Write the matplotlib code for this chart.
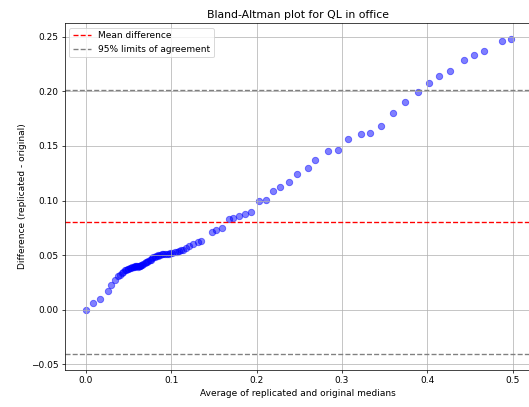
import numpy as np
import matplotlib
matplotlib.use("Agg")
import matplotlib.pyplot as plt

# Data
avg_medians = [
    0.000, 0.009, 0.017, 0.026, 0.030, 0.034, 0.038, 0.040, 0.042, 0.044,
    0.046, 0.047, 0.049, 0.050, 0.052, 0.053, 0.054, 0.056, 0.057, 0.058,
    0.059, 0.060, 0.061, 0.062, 0.063, 0.064, 0.065, 0.066, 0.067, 0.069,
    0.070, 0.072, 0.073, 0.075, 0.076, 0.078, 0.079, 0.081, 0.082, 0.084,
    0.085, 0.087, 0.089, 0.091, 0.093, 0.095, 0.097, 0.099, 0.101, 0.104,
    0.107, 0.109, 0.111, 0.114, 0.117, 0.121, 0.125, 0.131, 0.135,
    0.148, 0.153, 0.159, 0.168, 0.173, 0.180, 0.187, 0.193, 0.203, 0.211,
    0.219, 0.227, 0.238, 0.247, 0.260, 0.269, 0.284, 0.295, 0.307, 0.322,
    0.333, 0.346, 0.360, 0.374, 0.389, 0.402, 0.414, 0.427, 0.443, 0.455,
    0.466, 0.488, 0.498,
]
differences = [
    0.000, 0.006, 0.010, 0.017, 0.023, 0.027, 0.031, 0.032, 0.034, 0.035,
    0.036, 0.036, 0.037, 0.037, 0.038, 0.038, 0.039, 0.039, 0.039, 0.040,
    0.040, 0.040, 0.039, 0.040, 0.040, 0.040, 0.041, 0.041, 0.042, 0.043,
    0.044, 0.044, 0.045, 0.046, 0.046, 0.047, 0.048, 0.048, 0.049, 0.049,
    0.050, 0.050, 0.051, 0.051, 0.051, 0.051, 0.051, 0.052, 0.052, 0.053,
    0.053, 0.054, 0.055, 0.055, 0.057, 0.058, 0.060, 0.062, 0.063,
    0.071, 0.073, 0.075, 0.083, 0.084, 0.086, 0.088, 0.090, 0.100, 0.101,
    0.109, 0.112, 0.117, 0.124, 0.130, 0.137, 0.145, 0.146, 0.156, 0.161,
    0.162, 0.168, 0.180, 0.190, 0.199, 0.208, 0.214, 0.219, 0.229, 0.233,
    0.237, 0.246, 0.248,
]

mean_diff = 0.0805
upper_loa = 0.2010
lower_loa = -0.0405

fig = plt.figure(figsize=(529 / 65, 407 / 65), dpi=65)
# right spine falls just past the image edge, as in the reference crop
ax = fig.add_axes([0.122, 0.0914, 0.884, 0.8516])

ax.scatter(avg_medians, differences, color="blue", alpha=0.5, s=50)
ax.axhline(mean_diff, color="red", linestyle="--", label="Mean difference")
ax.axhline(upper_loa, color="gray", linestyle="--", label="95% limits of agreement")
ax.axhline(lower_loa, color="gray", linestyle="--")

ax.set_title("Bland-Altman plot for QL in office")
ax.set_xlabel("Average of replicated and original medians")
ax.set_ylabel("Difference (replicated - original)")
ax.legend(loc="upper left")
ax.grid(True)

fig.savefig("out.png", dpi=65)
